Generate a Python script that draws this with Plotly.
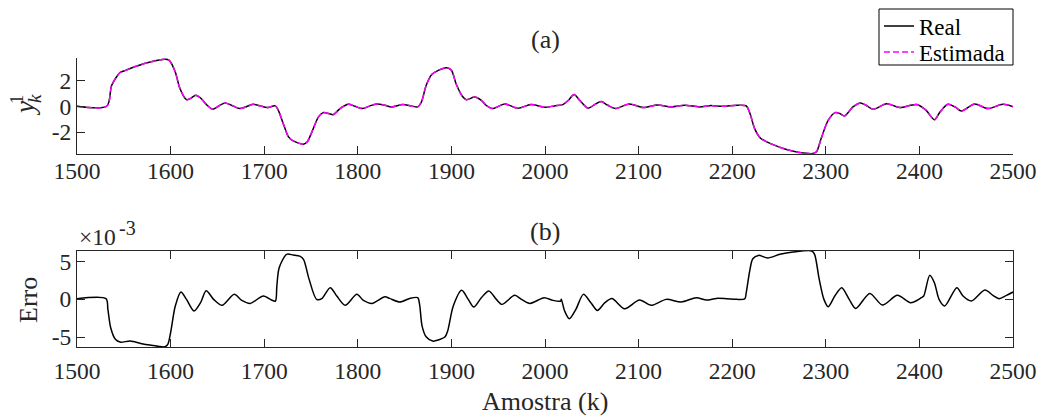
import plotly.graph_objects as go

# ---------------- data ----------------
# (a) output y_k^1 : sample index and value
k_real = [1500, 1532, 1537, 1546, 1552, 1564, 1578, 1594, 1598.6, 1605, 1610, 1617, 1621, 1627,
          1632, 1639, 1645, 1651, 1658, 1665, 1674, 1681, 1688, 1696, 1703, 1712, 1715, 1721,
          1726, 1731, 1742, 1746, 1751, 1758, 1763, 1769, 1774, 1781, 1790, 1797, 1805, 1813,
          1820, 1829, 1836, 1848, 1857, 1864, 1868, 1873, 1879, 1886, 1895, 1900, 1905, 1911,
          1916, 1925, 1932, 1937, 1944, 1957, 1971, 1985, 2000, 2010, 2019, 2025, 2031, 2037,
          2046, 2053, 2060, 2067, 2075, 2090, 2105, 2120, 2135, 2149, 2165.5, 2176, 2190, 2205,
          2215, 2219, 2224, 2230, 2237, 2247, 2258, 2272, 2286, 2290, 2295, 2302.5, 2310, 2315,
          2320, 2329, 2337, 2343, 2350.5, 2365, 2379, 2397, 2407, 2416, 2422, 2430.5, 2438,
          2445, 2459, 2473, 2489, 2500]
y_real = [0.0, 0.02, 1.6, 2.6, 2.77, 3.1, 3.41, 3.62, 3.54, 2.64, 1.36, 0.51, 0.59, 0.85,
          0.64, 0.08, -0.23, 0.0, 0.26, 0.08, -0.18, -0.03, 0.15, 0.03, -0.1, 0.03, -0.3, -1.46,
          -2.36, -2.67, -2.92, -2.74, -1.97, -0.82, -0.49, -0.56, -0.64, -0.18, 0.15, 0.0, -0.18, 0.03,
          0.18, 0.08, -0.05, 0.13, 0.03, -0.05, 0.33, 1.6, 2.44, 2.77, 2.97, 2.77, 1.74, 0.85,
          0.51, 0.72, 0.46, 0.08, -0.18, 0.18, -0.15, 0.13, -0.08, 0.03, 0.13, 0.46, 0.9, 0.46,
          -0.15, 0.13, 0.36, 0.08, -0.18, 0.18, -0.1, 0.1, -0.05, 0.08, -0.05, 0.05, 0.0, 0.08,
          0.03, -0.56, -1.72, -2.44, -2.74, -3.05, -3.33, -3.56, -3.64, -3.51, -2.49, -1.08, -0.49, -0.56,
          -0.74, -0.05, 0.26, 0.08, -0.23, 0.2, -0.1, 0.13, -0.3, -1.03, -0.44, 0.15, -0.05,
          -0.36, 0.18, -0.18, 0.15, -0.03]
y_estimada = list(y_real)  # visually identical to the real output at this scale

# (b) estimation error, in units of 1e-3
k_erro = [1500, 1531, 1533, 1536, 1541, 1546, 1557, 1568, 1578, 1594, 1597, 1600, 1605, 1611,
          1617, 1625, 1632, 1638, 1646, 1655, 1668, 1676, 1685, 1699, 1708, 1712, 1713.5, 1716,
          1724, 1731, 1738, 1742, 1748, 1756, 1761.5, 1770.5, 1777.6, 1786.5, 1799, 1806, 1815,
          1829, 1834, 1845, 1855.5, 1864, 1866, 1868.7, 1873, 1880, 1887.5, 1893, 1896, 1902,
          1911, 1918, 1924, 1932, 1940, 1948, 1954, 1967.6, 1975, 1984, 1999, 2008.5, 2016.7,
          2017.4, 2021, 2026, 2033, 2041, 2049, 2056, 2064, 2071.5, 2085, 2101, 2113.5, 2129.5,
          2145.5, 2161.6, 2172.6, 2183, 2194, 2204.6, 2213.5, 2215, 2219, 2222, 2228, 2238, 2251,
          2265, 2285, 2288, 2293, 2298, 2302.5, 2309.6, 2317, 2325, 2332, 2347, 2360.5, 2376.5,
          2390.7, 2402, 2404.6, 2411, 2416, 2421, 2427, 2440, 2446.6, 2455.5, 2470, 2478.6, 2485,
          2493, 2500]
erro_e3 = [0.07, 0.07, -1.34, -3.77, -5.3, -5.66, -5.53, -5.84, -6.06, -6.28, -5.97, -4.43, -0.9, 0.95,
           -0.02, -1.56, -0.46, 1.12, -0.02, -0.81, 0.64, -0.15, -0.55, 0.42, -0.11, -0.24, 1.74, 4.16,
           5.93, 5.84, 5.7, 5.26, 2.62, -0.02, 0.07, 1.52, 0.42, -0.81, 0.64, -0.15, -0.55,
           0.33, 0.11, -0.37, 0.11, 0.2, -0.68, -3.55, -4.96, -5.53, -5.31, -5.0, -4.2, -0.9,
           1.17, -0.02, -1.04, 0.2, 1.08, -0.02, -0.68, 0.51, -0.02, -0.55, 0.2, -0.15, -0.24,
           -0.02, -1.56, -2.58, -1.34, 0.64, -0.46, -1.48, -0.46, 0.11, -1.26, -0.11, -0.81, -0.02,
           -0.37, 0.2, -0.11, 0.11, 0.07, -0.02, 0.07, 0.86, 3.94, 5.35, 5.79, 5.44, 5.93,
           6.23, 6.37, 5.93, 2.62, -0.02, -0.99, 0.42, 1.52, -0.02, -1.21, 0.77, -0.77, 0.51,
           -0.46, 0.2, 0.42, 3.15, 2.18, -0.02, -0.9, 1.52, 0.42, -0.24, 1.21, 0.51, 0.07,
           0.51, 0.95]

x_ticks = [1500, 1600, 1700, 1800, 1900, 2000, 2100, 2200, 2300, 2400, 2500]
y1_ticks = [-2, 0, 2]
y1_ticktext = ["-2", "0", "2"]
y2_ticks = [-5, 0, 5]
y2_ticktext = ["-5", "0", "5"]

# ---------------- styling ----------------
FONT = "Liberation Serif, Times New Roman, serif"
AX = "#262626"
TICK_FS = 23.5
LAB_FS = 26

M_L, M_R, M_T, M_B = 77, 33, 58, 71
W, H = 1046, 418
plot_w = W - M_L - M_R
plot_h = H - M_T - M_B


def px_x(p):
    return (p - M_L) / plot_w


def px_y(p):
    return (H - M_B - p) / plot_h


fig = go.Figure()
fig.add_trace(go.Scatter(x=k_real, y=y_real, mode="lines", name="Real", legend="legend",
                         line=dict(color="black", width=1.5, shape="spline", smoothing=0.8),
                         xaxis="x", yaxis="y"))
fig.add_trace(go.Scatter(x=k_real, y=y_estimada, mode="lines", name="Estimada", legend="legend2",
                         line=dict(color="#ff00ff", width=1.5, dash="6px,3px", shape="spline", smoothing=0.8),
                         xaxis="x", yaxis="y"))
fig.add_trace(go.Scatter(x=k_erro, y=erro_e3, mode="lines", name="Erro", showlegend=False,
                         line=dict(color="black", width=1.5, shape="spline", smoothing=0.8),
                         xaxis="x2", yaxis="y2"))

common_x = dict(range=[1500, 2500], tickvals=x_ticks, ticks="inside", ticklen=8, tickcolor=AX,
                showline=True, linecolor=AX, linewidth=1, showgrid=False, zeroline=False,
                tickfont=dict(family=FONT, size=TICK_FS, color=AX), domain=[0, 1])

leg_common = dict(xanchor="left", yanchor="middle", bgcolor="rgba(0,0,0,0)", borderwidth=0,
                  font=dict(family=FONT, size=23, color="black"), itemwidth=30)

fig.update_layout(
    width=W, height=H,
    paper_bgcolor="white", plot_bgcolor="white",
    margin=dict(l=M_L, r=M_R, t=M_T, b=M_B, autoexpand=False),
    font=dict(family=FONT, color=AX),
    xaxis=dict(anchor="y", mirror=False, ticklabelstandoff=-4, **common_x),
    yaxis=dict(domain=[0.669, 1.0], range=[-3.65, 3.72], tickvals=y1_ticks, ticktext=y1_ticktext,
               ticks="inside", ticklen=8, tickcolor=AX, showline=True, linecolor=AX, linewidth=1,
               showgrid=False, zeroline=False, anchor="x",
               tickfont=dict(family=FONT, size=TICK_FS, color=AX)),
    xaxis2=dict(anchor="y2", mirror="ticks", ticklabelstandoff=3, **common_x),
    yaxis2=dict(domain=[0, 0.3322], range=[-6.31, 6.37], tickvals=y2_ticks, ticktext=y2_ticktext,
                ticks="inside", ticklen=8, tickcolor=AX, showline=True, linecolor=AX, linewidth=1,
                mirror="ticks", showgrid=False, zeroline=False, anchor="x2",
                tickfont=dict(family=FONT, size=TICK_FS, color=AX)),
    showlegend=True,
    legend=dict(x=px_x(879), y=px_y(26), **leg_common),
    legend2=dict(x=px_x(879), y=px_y(52), **leg_common),
    shapes=[dict(type="rect", xref="paper", yref="paper", x0=px_x(879), x1=px_x(1013),
                 y0=px_y(65), y1=px_y(9), line=dict(color="black", width=1),
                 fillcolor="white", layer="below")],
)

ann = [
    dict(text="(a)", y=40),
    dict(text="(b)", y=231),
    dict(text="Amostra (k)", y=401),
]
annotations = []
for a in ann:
    annotations.append(dict(text=a["text"], xref="paper", yref="paper", x=0.5,
                            y=px_y(a["y"]), xanchor="center", yanchor="middle",
                            showarrow=False, font=dict(family=FONT, size=LAB_FS, color=AX)))
# y labels
annotations.append(dict(text="Erro", xref="paper", yref="paper", x=px_x(28), y=px_y(300),
                        xanchor="center", yanchor="middle", textangle=-90, showarrow=False,
                        font=dict(family=FONT, size=LAB_FS, color=AX)))
annotations.append(dict(text="<i>y</i>", xref="paper", yref="paper", x=px_x(25), y=px_y(109),
                        xanchor="center", yanchor="middle", textangle=-90, showarrow=False,
                        font=dict(family=FONT, size=27, color=AX)))
annotations.append(dict(text="<i>k</i>", xref="paper", yref="paper", x=px_x(35), y=px_y(99),
                        xanchor="center", yanchor="middle", textangle=-90, showarrow=False,
                        font=dict(family=FONT, size=19, color=AX)))
annotations.append(dict(text="1", xref="paper", yref="paper", x=px_x(17), y=px_y(99),
                        xanchor="center", yanchor="middle", textangle=-90, showarrow=False,
                        font=dict(family=FONT, size=19, color=AX)))
# exponent label of the error axis
annotations.append(dict(text="×10", xref="paper", yref="paper", x=px_x(77), y=px_y(252),
                        xanchor="left", yanchor="bottom", showarrow=False,
                        font=dict(family=FONT, size=TICK_FS, color=AX)))
annotations.append(dict(text="-3", xref="paper", yref="paper", x=px_x(117), y=px_y(215),
                        xanchor="left", yanchor="top", showarrow=False,
                        font=dict(family=FONT, size=20, color=AX)))
fig.update_layout(annotations=annotations)

fig.write_html("out.html")
